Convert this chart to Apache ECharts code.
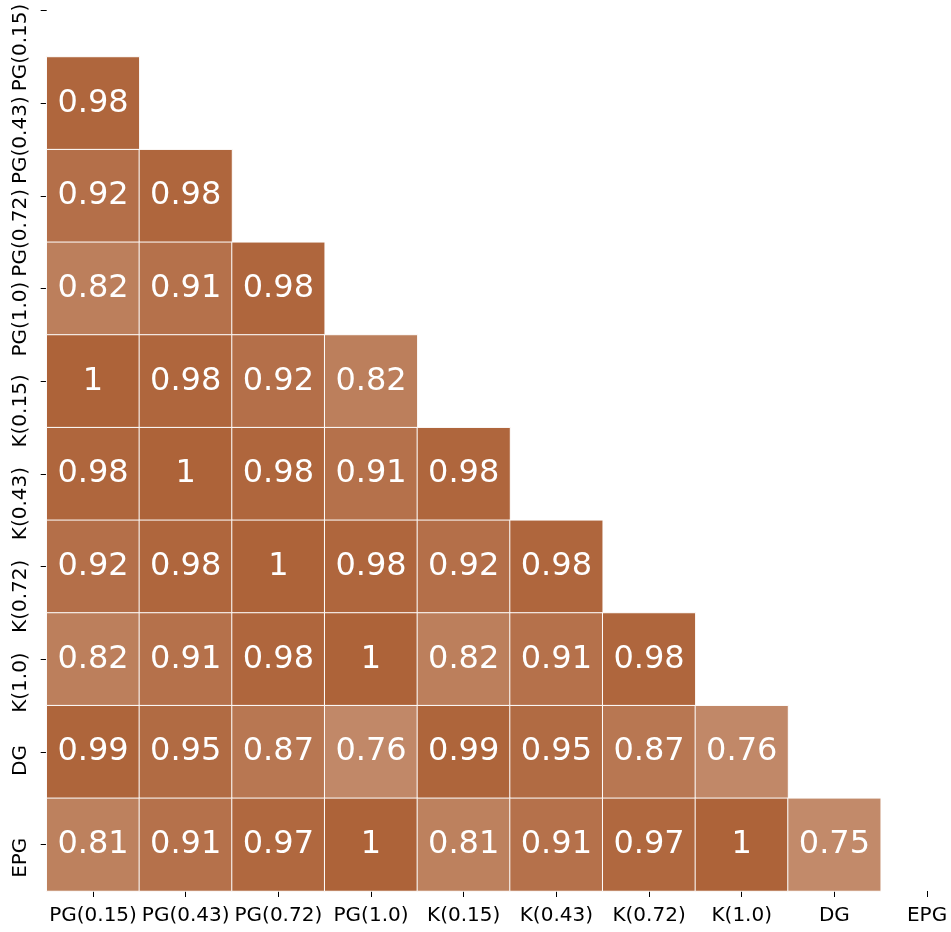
<!DOCTYPE html>
<html>
<head>
<meta charset="utf-8">
<script src="https://cdn.jsdelivr.net/npm/echarts@6/dist/echarts.min.js"></script>
<style>
  html, body { margin: 0; padding: 0; background: #fff; }
  #chart { width: 951px; height: 932px; }
</style>
</head>
<body>
<div id="chart"></div>
<script>
// Method labels, shared by both axes
const methods = ['PG(0.15)', 'PG(0.43)', 'PG(0.72)', 'PG(1.0)', 'K(0.15)', 'K(0.43)', 'K(0.72)', 'K(1.0)', 'DG', 'EPG'];

// Lower triangle of the correlation matrix (row i holds columns 0..i-1)
const rowPG043 = [0.98];
const rowPG072 = [0.92, 0.98];
const rowPG10  = [0.82, 0.91, 0.98];
const rowK015  = [1, 0.98, 0.92, 0.82];
const rowK043  = [0.98, 1, 0.98, 0.91, 0.98];
const rowK072  = [0.92, 0.98, 1, 0.98, 0.92, 0.98];
const rowK10   = [0.82, 0.91, 0.98, 1, 0.82, 0.91, 0.98];
const rowDG    = [0.99, 0.95, 0.87, 0.76, 0.99, 0.95, 0.87, 0.76];
const rowEPG   = [0.81, 0.91, 0.97, 1, 0.81, 0.91, 0.97, 1, 0.75];

const lowerRows = [[], rowPG043, rowPG072, rowPG10, rowK015, rowK043, rowK072, rowK10, rowDG, rowEPG];

const cells = [];
lowerRows.forEach((row, i) => {
  row.forEach((v, j) => cells.push([j, i, v]));
});

const FONT = 'DejaVu Sans';
const cellSize = 92.67;

const chart = echarts.init(document.getElementById('chart'), null, { renderer: 'canvas' });
chart.setOption({
  backgroundColor: '#ffffff',
  animation: false,
  grid: {
    left: 46.7,
    top: 891 - cellSize * 10,
    width: cellSize * 10,
    height: cellSize * 10,
    outerBoundsMode: 'none',
    containLabel: false
  },
  xAxis: {
    type: 'category',
    data: methods,
    position: 'bottom',
    axisLine: { show: false },
    axisTick: { show: true, alignWithLabel: true, length: 6, lineStyle: { color: '#000', width: 1 } },
    axisLabel: { fontFamily: FONT, fontSize: 20, color: '#000', margin: 15, interval: 0, hideOverlap: false },
    splitLine: { show: false }
  },
  yAxis: {
    type: 'category',
    data: methods,
    inverse: true,
    axisLine: { show: false },
    axisTick: { show: true, alignWithLabel: true, length: 6, lineStyle: { color: '#000', width: 1 } },
    // vertical labels hang downward from their tick
    axisLabel: {
      fontFamily: FONT, fontSize: 20, color: '#000', margin: 26, rotate: 90,
      align: 'right', verticalAlign: 'middle', padding: [0, -7, 0, 0],
      interval: 0, hideOverlap: false
    },
    splitLine: { show: false }
  },
  visualMap: {
    show: false,
    min: 0.75,
    max: 1,
    inRange: { color: ['#C28A6A', '#AD6339'] }
  },
  series: [{
    type: 'heatmap',
    data: cells,
    itemStyle: { borderColor: '#ffffff', borderWidth: 1 },
    label: {
      show: true,
      color: '#ffffff',
      fontFamily: FONT,
      fontSize: 32,
      formatter: p => String(p.value[2])
    },
    emphasis: { disabled: true }
  }]
});
</script>
</body>
</html>
